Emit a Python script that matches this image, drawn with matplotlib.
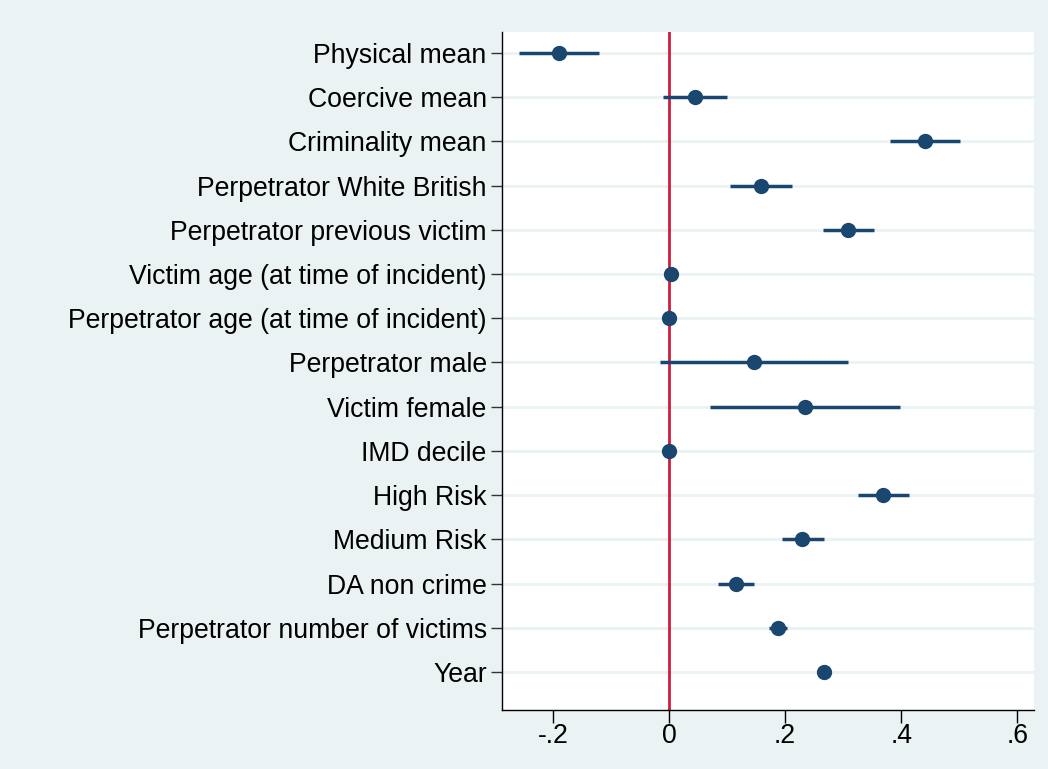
import matplotlib.pyplot as plt
import numpy as np

labels = [
    "Physical mean", "Coercive mean", "Criminality mean",
    "Perpetrator White British", "Perpetrator previous victim",
    "Victim age (at time of incident)", "Perpetrator age (at time of incident)",
    "Perpetrator male", "Victim female", "IMD decile", "High Risk",
    "Medium Risk", "DA non crime", "Perpetrator number of victims", "Year",
]
coef = [-0.190, 0.044, 0.441, 0.158, 0.309, 0.003, -0.001, 0.146, 0.234,
        -0.001, 0.369, 0.229, 0.115, 0.188, 0.267]
ci_lo = [-0.259, -0.011, 0.381, 0.105, 0.266, 0.000, -0.004, -0.015, 0.071,
         -0.004, 0.326, 0.194, 0.085, 0.173, 0.264]
ci_hi = [-0.120, 0.100, 0.501, 0.211, 0.353, 0.006, 0.002, 0.308, 0.398,
         0.002, 0.413, 0.267, 0.146, 0.204, 0.270]
xticks = [-0.2, 0, 0.2, 0.4, 0.6]
xticklabels = ["-.2", "0", ".2", ".4", ".6"]

plt.rcParams['font.family'] = ['Liberation Sans', 'DejaVu Sans']

navy = "#1A476F"
bg = "#EAF2F3"

fig = plt.figure(figsize=(10.48, 7.69), dpi=100, facecolor=bg)
ax = fig.add_axes([0.479, 0.0767, 0.5077, 0.8817])
ax.set_facecolor("white")

y = np.arange(1, len(labels) + 1)
for yi in y:
    ax.axhline(yi, color=bg, lw=2, zorder=0)
ax.axvline(0, color="#D01C3F", lw=2, zorder=1)
ax.hlines(y, ci_lo, ci_hi, color=navy, lw=2.5, zorder=2)
ax.plot(coef, y, "o", color=navy, ms=10, zorder=3)

ax.set_ylim(15.86, 0.525)
ax.set_xlim(-0.288, 0.629)
ax.set_yticks(y)
ax.set_yticklabels(labels)
ax.set_xticks(xticks)
ax.set_xticklabels(xticklabels)
ax.tick_params(axis="y", length=8, width=1, color="#333333", labelsize=19.2, pad=3)
ax.tick_params(axis="x", length=9, width=1, labelsize=19.2, pad=0)

for s in ["top", "right"]:
    ax.spines[s].set_visible(False)
for s in ["left", "bottom"]:
    ax.spines[s].set_color("black")
    ax.spines[s].set_linewidth(1)

fig.savefig("out.png", dpi=100, facecolor=bg)
